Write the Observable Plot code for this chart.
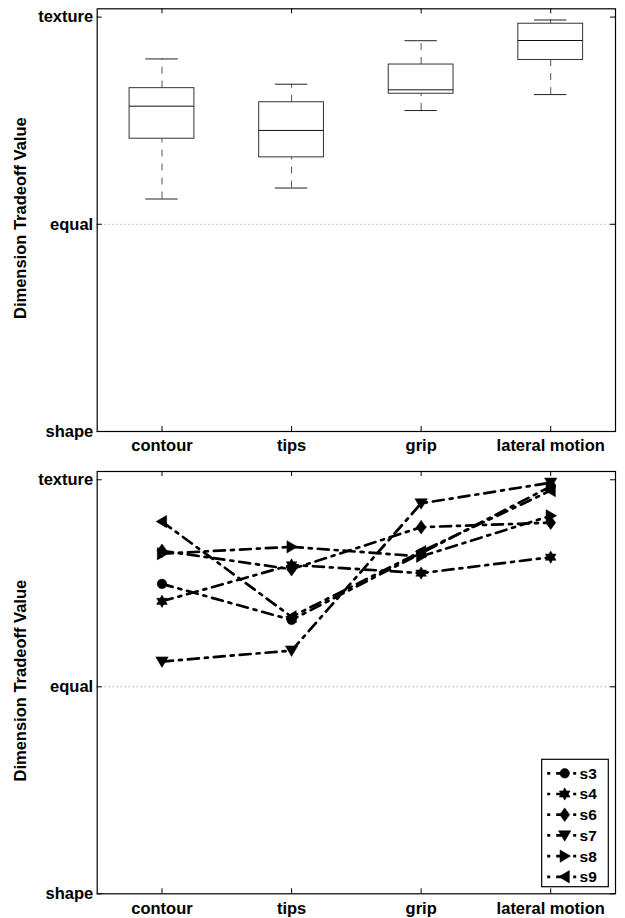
<!DOCTYPE html>
<html>
<head>
<meta charset="utf-8">
<script src="https://cdn.jsdelivr.net/npm/d3@7"></script>
<script src="https://cdn.jsdelivr.net/npm/@observablehq/plot@0.6"></script>
<style>
  html, body { margin: 0; padding: 0; background: #fff; }
  #chart svg { display: block; overflow: visible; }
</style>
</head>
<body>
<div id="chart"></div>
<script>
// ---------- data ----------
const categories = ["contour", "tips", "grip", "lateral motion"];
const yTickValues = [-1, 0, 1];
const yTickLabels = ["shape", "equal", "texture"];
const axisLabel = "Dimension Tradeoff Value";

// box plot statistics per category
const boxLow    = [0.122, 0.175, 0.549, 0.626];
const boxQ1     = [0.413, 0.323, 0.630, 0.793];
const boxMedian = [0.570, 0.453, 0.649, 0.887];
const boxQ3     = [0.657, 0.589, 0.771, 0.968];
const boxHigh   = [0.798, 0.676, 0.886, 0.986];

// per-subject series
const seriesNames = ["s3", "s4", "s6", "s7", "s8", "s9"];
const s3 = [0.497, 0.323, 0.645, 0.968];
const s4 = [0.413, 0.589, 0.549, 0.626];
const s6 = [0.657, 0.568, 0.771, 0.793];
const s7 = [0.122, 0.175, 0.886, 0.986];
const s8 = [0.643, 0.676, 0.630, 0.826];
const s9 = [0.798, 0.338, 0.653, 0.948];
const seriesValues = [s3, s4, s6, s7, s8, s9];

// ---------- styles ----------
const W = 625;
const FONT = "'Liberation Sans', Arial, Helvetica, sans-serif";
const FS = 16.5;
const xDomain = [0.5, 4.5];
const yDomain = [-1, 1.04];
const xTicks = categories.map((_, i) => i + 1);
const BOX_HALF = 0.25, CAP_HALF = 0.125;
const TICK = 5;
const LINE_DASH = "11,6,3,6";

function polySymbol(pts) {
  return {
    draw(ctx, size) {
      const r = Math.sqrt(size / Math.PI);
      pts.forEach(([px, py], i) => i ? ctx.lineTo(px * r, py * r) : ctx.moveTo(px * r, py * r));
      ctx.closePath();
    }
  };
}
const symHexagram = {
  draw(ctx, size) {
    const r = Math.sqrt(size / Math.PI);
    for (let k = 0; k < 12; k++) {
      const a = (-90 + k * 30) * Math.PI / 180;
      const rr = k % 2 ? r * 0.577 : r;
      const px = rr * Math.cos(a), py = rr * Math.sin(a);
      k ? ctx.lineTo(px, py) : ctx.moveTo(px, py);
    }
    ctx.closePath();
  }
};
const symbols = [
  d3.symbolCircle,
  symHexagram,
  polySymbol([[0, -1.1], [0.8, 0], [0, 1.1], [-0.8, 0]]),
  polySymbol([[-1, -0.75], [1, -0.75], [0, 0.95]]),
  polySymbol([[-0.75, -1], [-0.75, 1], [0.95, 0]]),
  polySymbol([[0.75, -1], [0.75, 1], [-0.95, 0]])
];
const symbolR = [4.8, 6.2, 6.2, 6.2, 6.2, 6.2];

function frameMarks(H, M) {
  const fh = H - M.top - M.bottom;
  const fw = W - M.left - M.right;
  return [
    Plot.frame({stroke: "black", strokeWidth: 1.2}),
    Plot.ruleX(xTicks, {x: d => d, insetTop: fh - TICK, stroke: "black"}),
    Plot.ruleX(xTicks, {x: d => d, insetBottom: fh - TICK, stroke: "black"}),
    Plot.ruleY(yTickValues, {y: d => d, insetRight: fw - TICK, stroke: "black"}),
    Plot.ruleY(yTickValues, {y: d => d, insetLeft: fw - TICK, stroke: "black"}),
    Plot.axisX({
      ticks: xTicks, tickSize: 0, tickPadding: 8, label: null,
      tickFormat: d => categories[d - 1], fontWeight: "bold", fontSize: FS
    }),
    Plot.axisY({
      ticks: yTickValues, tickSize: 0, tickPadding: 4, label: null,
      tickFormat: d => yTickLabels[yTickValues.indexOf(d)], fontWeight: "bold", fontSize: FS
    }),
    Plot.text([axisLabel], {
      text: d => d, frameAnchor: "left", textAnchor: "middle", lineAnchor: "middle",
      rotate: -90, dx: -76.5, dy: -2,
      fontWeight: "bold", fontSize: FS
    })
  ];
}

// ---------- top: box plot ----------
const M1 = {top: 8.3, bottom: 29, left: 96.7, right: 10};
const H1 = 460;
const boxData = categories.map((c, i) => ({
  x: i + 1, lo: boxLow[i], q1: boxQ1[i], med: boxMedian[i], q3: boxQ3[i], hi: boxHigh[i]
}));

const topChart = Plot.plot({
  width: W, height: H1,
  marginTop: M1.top, marginBottom: M1.bottom, marginLeft: M1.left, marginRight: M1.right,
  style: {fontFamily: FONT, fontSize: FS + "px", background: "white", color: "black"},
  x: {domain: xDomain, axis: null},
  y: {domain: yDomain, axis: null},
  marks: [
    Plot.ruleY([0], {stroke: "#888", strokeDasharray: "1,3"}),
    Plot.ruleX(boxData, {x: "x", y1: "q3", y2: "hi", stroke: "#555", strokeDasharray: "7,7"}),
    Plot.ruleX(boxData, {x: "x", y1: "lo", y2: "q1", stroke: "#555", strokeDasharray: "7,7"}),
    Plot.ruleY(boxData, {y: "hi", x1: d => d.x - CAP_HALF, x2: d => d.x + CAP_HALF, stroke: "#222"}),
    Plot.ruleY(boxData, {y: "lo", x1: d => d.x - CAP_HALF, x2: d => d.x + CAP_HALF, stroke: "#222"}),
    Plot.rect(boxData, {x1: d => d.x - BOX_HALF, x2: d => d.x + BOX_HALF, y1: "q1", y2: "q3", fill: "white", stroke: "#333"}),
    Plot.ruleY(boxData, {y: "med", x1: d => d.x - BOX_HALF, x2: d => d.x + BOX_HALF, stroke: "#111"}),
    ...frameMarks(H1, M1)
  ]
});

// ---------- bottom: per-subject lines ----------
const M2 = {top: 11, bottom: 24.7, left: 96.7, right: 10};
const H2 = 458;
const seriesMarks = [];
seriesNames.forEach((name, si) => {
  const pts = seriesValues[si].map((v, i) => ({x: i + 1, y: v}));
  seriesMarks.push(Plot.line(pts, {x: "x", y: "y", stroke: "black", strokeWidth: 2.7, strokeDasharray: LINE_DASH}));
  seriesMarks.push(Plot.dot(pts, {x: "x", y: "y", symbol: symbols[si], r: symbolR[si], fill: "black", stroke: "black", strokeWidth: 0.5}));
});

const bottomChart = Plot.plot({
  width: W, height: H2,
  marginTop: M2.top, marginBottom: M2.bottom, marginLeft: M2.left, marginRight: M2.right,
  style: {fontFamily: FONT, fontSize: FS + "px", background: "white", color: "black"},
  x: {domain: xDomain, axis: null},
  y: {domain: yDomain, axis: null},
  marks: [
    Plot.ruleY([0], {stroke: "#888", strokeDasharray: "1,3"}),
    ...seriesMarks,
    ...frameMarks(H2, M2)
  ]
});

// legend (inside the bottom plot, lower right)
const lg = d3.select(bottomChart).append("g").attr("class", "legend");
const LX = 541.7, LY = 299.3, LW = 66.6, LH = 127.4, ROW = 20.7, ROW0 = 14;
lg.append("rect").attr("x", LX).attr("y", LY).attr("width", LW).attr("height", LH)
  .attr("fill", "white").attr("stroke", "black").attr("stroke-width", 1.2);
seriesNames.forEach((name, i) => {
  const y = LY + ROW0 + i * ROW;
  lg.append("line").attr("x1", LX + 5.5).attr("x2", LX + 39.5).attr("y1", y).attr("y2", y)
    .attr("stroke", "black").attr("stroke-width", 2.7).attr("stroke-dasharray", LINE_DASH)
    .attr("stroke-dashoffset", 17);
  lg.append("path").attr("transform", `translate(${LX + 23},${y})`)
    .attr("d", d3.symbol(symbols[i], symbolR[i] * symbolR[i] * Math.PI)())
    .attr("fill", "black").attr("stroke", "black").attr("stroke-width", 0.5);
  lg.append("text").attr("x", LX + 46.5).attr("y", y).attr("dy", "0.35em")
    .attr("font-family", FONT).attr("font-weight", "bold").attr("font-size", 15.5)
    .text(name);
});

const chart = document.getElementById("chart");
chart.appendChild(topChart);
chart.appendChild(bottomChart);
</script>
</body>
</html>
